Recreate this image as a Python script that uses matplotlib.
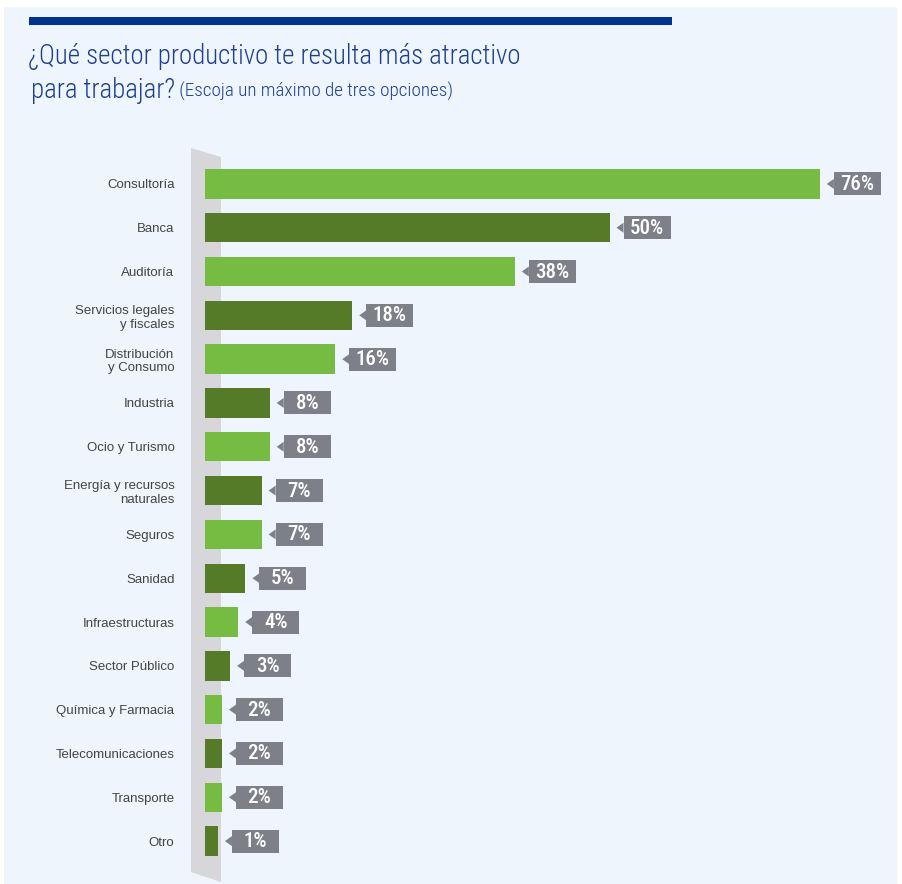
import matplotlib.pyplot as plt
import matplotlib.patches as mpatches
import matplotlib.transforms as mtransforms
from matplotlib import font_manager

categories = ['Consultoría', 'Banca', 'Auditoría', 'Servicios legales\ny fiscales',
              'Distribución\ny Consumo', 'Industria', 'Ocio y Turismo',
              'Energía y recursos\nnaturales', 'Seguros', 'Sanidad', 'Infraestructuras',
              'Sector Público', 'Química y Farmacia', 'Telecomunicaciones',
              'Transporte', 'Otro']
# bar lengths as drawn in the picture (labels are rounded)
values = [76, 50, 38.3, 18.2, 16.1, 8, 8, 7, 7, 5, 4.1, 3.1, 2.1, 2.1, 2.1, 1.6]
labels = ['76%', '50%', '38%', '18%', '16%', '8%', '8%', '7%', '7%', '5%', '4%',
          '3%', '2%', '2%', '2%', '1%']

light_green = '#76BC43'
dark_green = '#557A28'
box_grey = '#7E8089'
bg = '#EEF5FC'

names = {f.name for f in font_manager.fontManager.ttflist}


def pick(options):
    for o in options:
        if o in names:
            return o
    return 'DejaVu Sans'


narrow = pick(['Roboto Condensed', 'Archivo Narrow', 'PT Sans Narrow',
               'Liberation Sans Narrow', 'Fira Sans Condensed', 'Open Sans Condensed'])
plain = pick(['Liberation Sans', 'Arimo', 'Roboto', 'DejaVu Sans'])

W, H = 902, 884
fig = plt.figure(figsize=(W / 100, H / 100), dpi=100)
fig.patch.set_facecolor('white')

# background canvas in pixel coordinates
bgax = fig.add_axes([0, 0, 1, 1])
bgax.set_xlim(0, W)
bgax.set_ylim(H, 0)
bgax.axis('off')
bgax.add_patch(mpatches.Rectangle((4, 7), 893, 880, color=bg, lw=0))
bgax.add_patch(mpatches.Rectangle((29, 17), 643, 8, color='#00338D', lw=0))
# grey slanted band behind the bars
bgax.add_patch(mpatches.Polygon([(191, 148), (221, 157), (221, 882), (191, 872)],
                                closed=True, color='#D6D6DB', lw=0))

title_kw = dict(family=narrow, color='#1E3F8F', va='center', ha='left', fontweight='light')
bgax.text(28, 56, '¿Qué sector productivo te resulta más atractivo', fontsize=19.4, **title_kw)
t = bgax.text(31, 91, 'para trabajar?', fontsize=19.4, **title_kw)
bgax.annotate(' (Escoja un máximo de tres opciones)', xy=(1, 0.5), xycoords=t,
              fontsize=13.8, **title_kw)

# bar chart
top_px, bot_px = 162, 863
ax = fig.add_axes([205 / W, 1 - bot_px / H, (895 - 205) / W, (bot_px - top_px) / H])
ax.patch.set_alpha(0)
y = list(range(len(values)))
colors = [light_green if i % 2 == 0 else dark_green for i in y]
ax.barh(y, values, height=0.67, color=colors, edgecolor='none')
ax.set_xlim(0, 690 / 8.09)
ax.set_ylim(len(values) - 0.5, -0.5)
for s in ax.spines.values():
    s.set_visible(False)
ax.set_xticks([])
ax.set_yticks(y)
ax.set_yticklabels(categories, fontsize=9.5, color='#444444', linespacing=1.2,
                   family=plain)
ax.tick_params(axis='y', length=0, pad=22)

# value labels: grey box with small pointer
for i, (v, lab) in enumerate(zip(values, labels)):
    tr = mtransforms.Affine2D() + mtransforms.ScaledTranslation(v, i, ax.transData)
    ax.add_patch(mpatches.Polygon([(7, 0), (14, 5), (14, -5)], closed=True,
                                  color=box_grey, lw=0, transform=tr, clip_on=False))
    ax.add_patch(mpatches.Rectangle((14, -11.5), 47, 23, color=box_grey, lw=0,
                                    transform=tr, clip_on=False))
    ax.text(37.5, -0.5, lab, transform=tr, ha='center', va='center', color='white',
            fontsize=15, fontweight='medium', family=narrow)

fig.savefig('out.png', dpi=100, facecolor='white')
